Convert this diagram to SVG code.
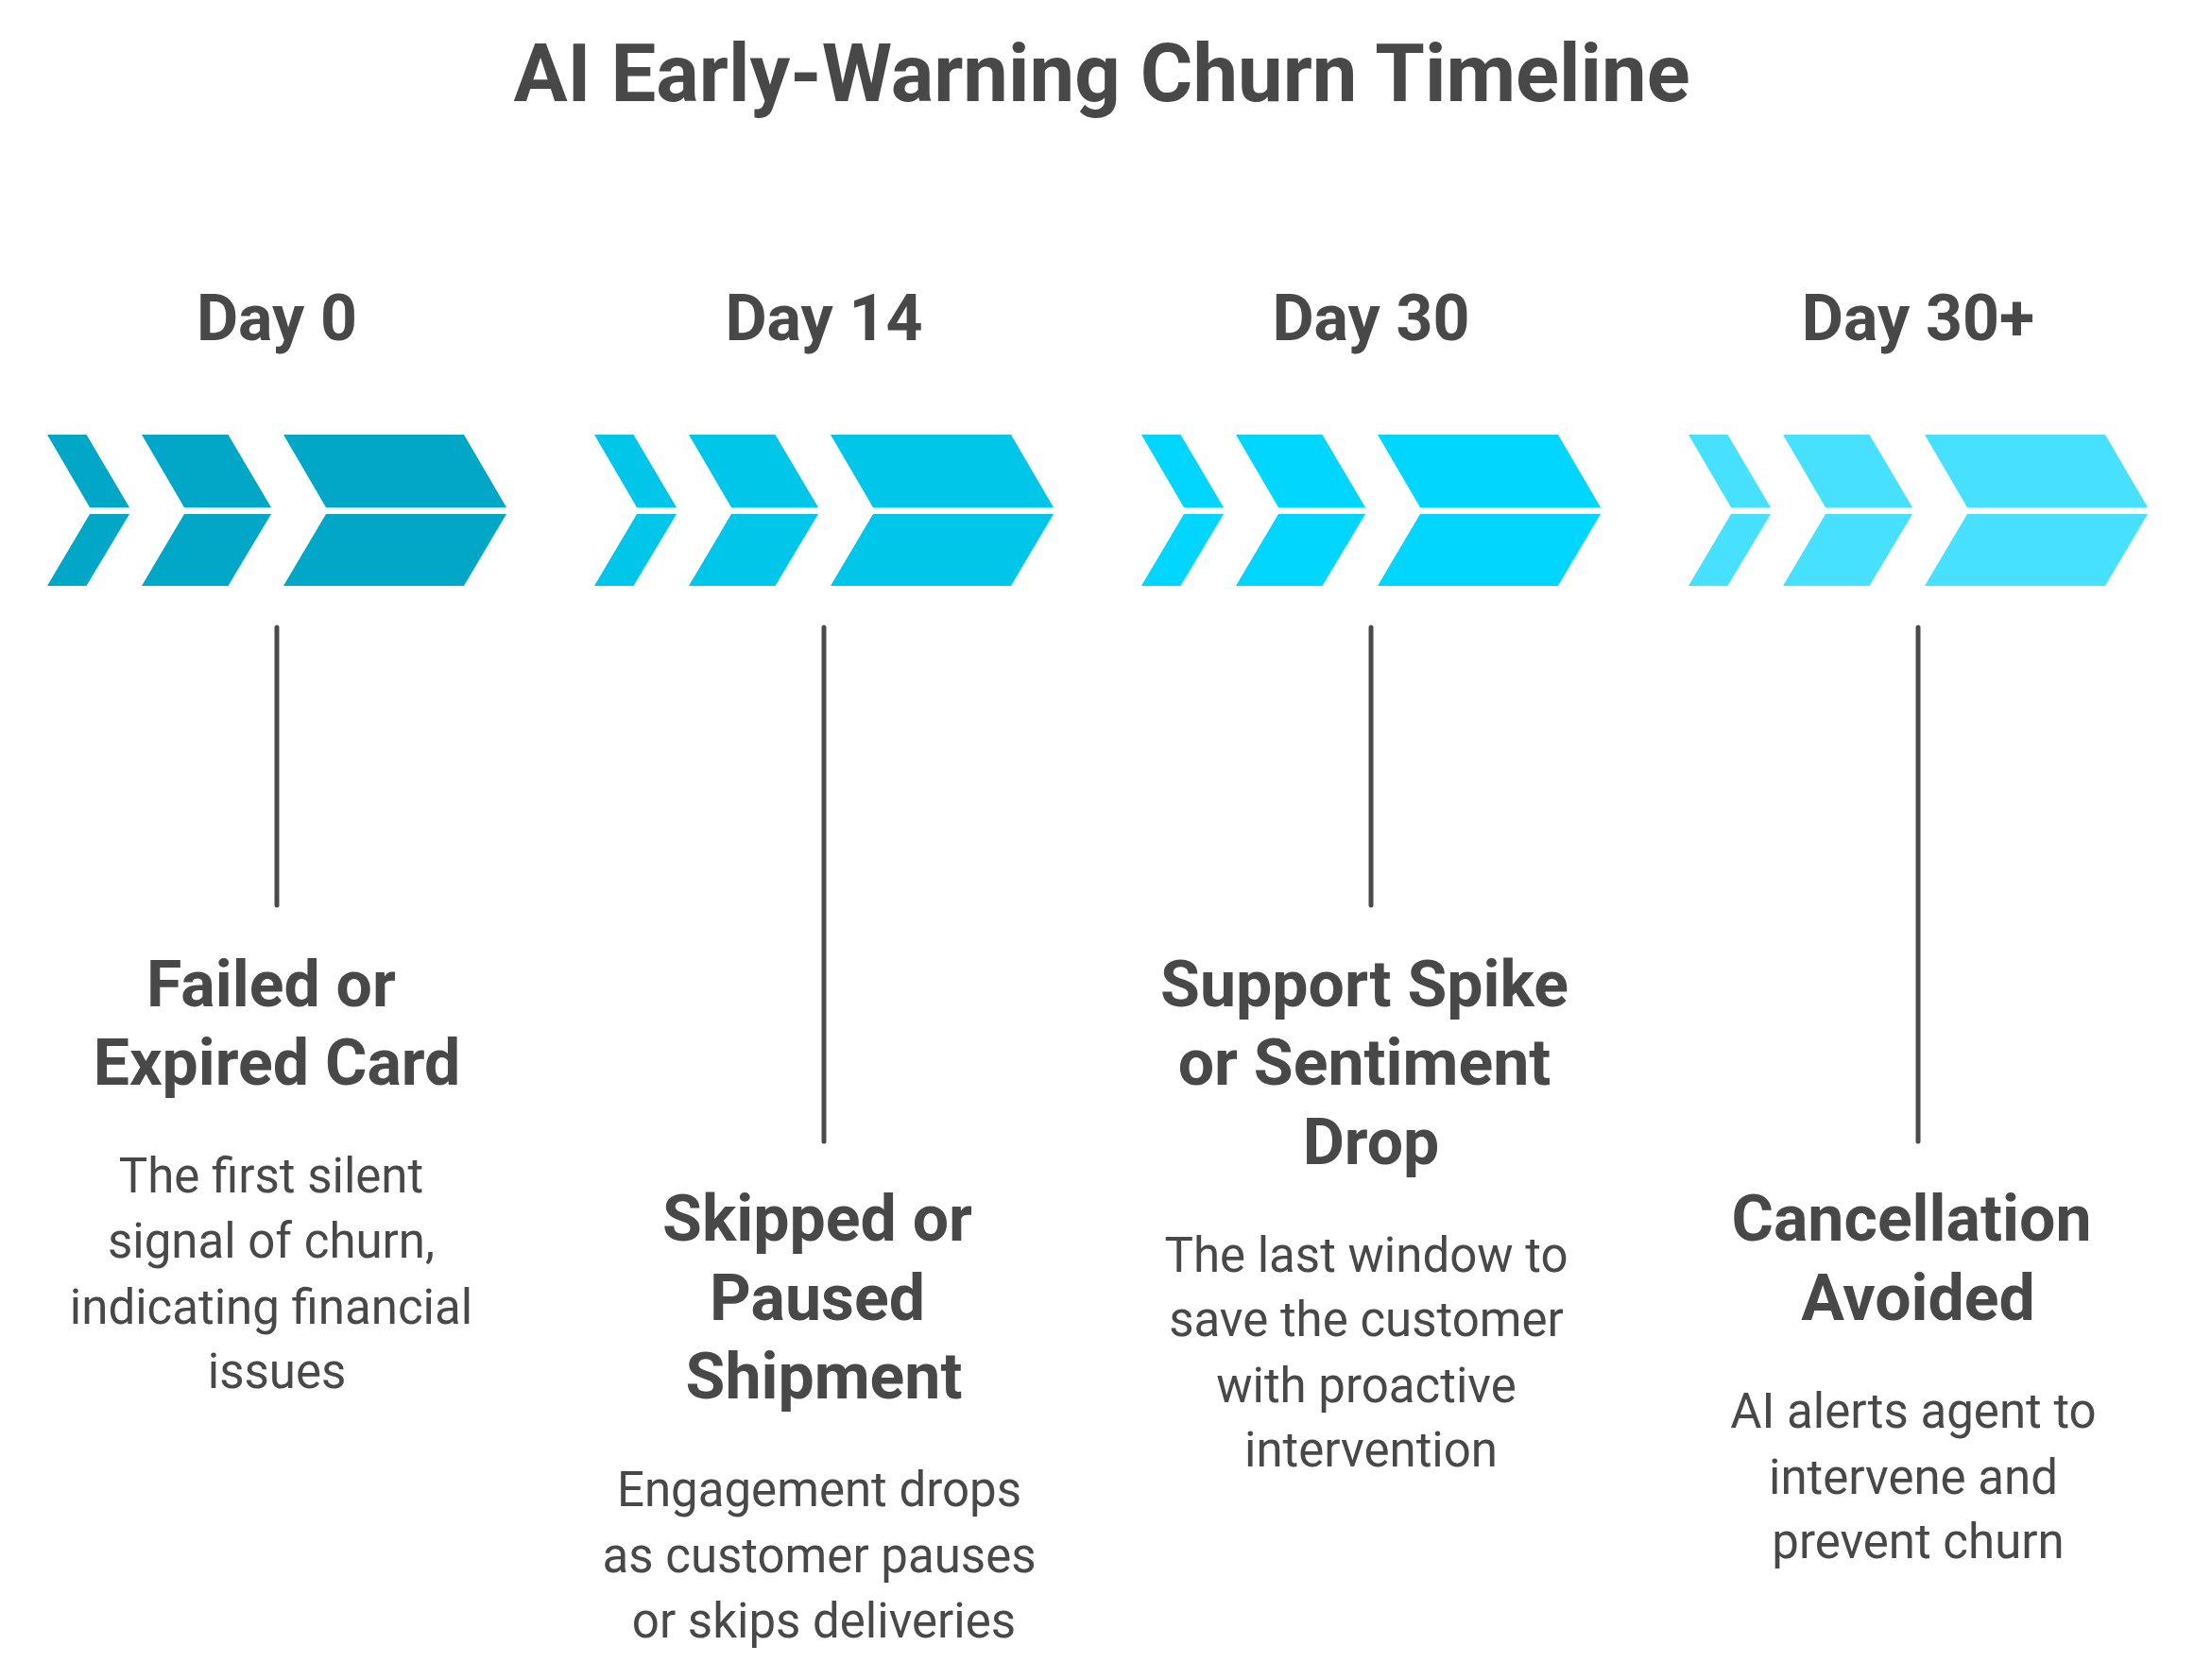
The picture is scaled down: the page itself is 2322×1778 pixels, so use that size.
<svg xmlns="http://www.w3.org/2000/svg" width="2322" height="1778" viewBox="0 0 2322 1778">
<style>
text{font-family:Roboto,"Liberation Sans",sans-serif;fill:#484848;text-anchor:middle}
.t{font-size:85px;font-weight:bold}
.d{font-size:68px;font-weight:bold}
.h{font-size:68px;font-weight:bold}
.b{font-size:51px}
.ln{stroke:#4a4a4a;stroke-width:5;stroke-linecap:round}
</style>
<defs>
<g id="chev">
<path d="M0 0H41.5L87 77H45Z M0 160H41.5L87 84H45Z"/>
<path d="M100 0H191.5L237 77H145Z M100 160H191.5L237 84H145Z"/>
<path d="M250 0H441L486 77H295Z M250 160H441L486 84H295Z"/>
</g>
</defs>
<rect width="2322" height="1778" fill="#fff"/>
<text class="t" x="1166" y="107">AI Early-Warning Churn Timeline</text>
<g id="connectors">
<line class="ln" x1="293" y1="664" x2="293" y2="958"/>
<line class="ln" x1="872" y1="664" x2="872" y2="1208"/>
<line class="ln" x1="1451" y1="664" x2="1451" y2="958"/>
<line class="ln" x1="2030" y1="664" x2="2030" y2="1208"/>
</g>
<g id="stage1">
<use href="#chev" x="50" y="460" fill="#00A7C6"/>
<text class="d" x="293" y="360">Day 0</text>
<text class="h" x="287" y="1065">Failed or</text>
<text class="h" x="293" y="1148">Expired Card</text>
<text class="b" x="287" y="1262">The first silent</text>
<text class="b" x="287" y="1331">signal of churn,</text>
<text class="b" x="287" y="1401">indicating financial</text>
<text class="b" x="293" y="1469">issues</text>
</g>
<g id="stage2">
<use href="#chev" x="629" y="460" fill="#00C6EA"/>
<text class="d" x="872" y="360">Day 14</text>
<text class="h" x="865" y="1313">Skipped or</text>
<text class="h" x="865" y="1397">Paused</text>
<text class="h" x="872" y="1480">Shipment</text>
<text class="b" x="867" y="1594">Engagement drops</text>
<text class="b" x="867" y="1664">as customer pauses</text>
<text class="b" x="872" y="1733">or skips deliveries</text>
</g>
<g id="stage3">
<use href="#chev" x="1208" y="460" fill="#00D6FF"/>
<text class="d" x="1451" y="360">Day 30</text>
<text class="h" x="1444" y="1065">Support Spike</text>
<text class="h" x="1444" y="1148">or Sentiment</text>
<text class="h" x="1451" y="1232">Drop</text>
<text class="b" x="1446" y="1346">The last window to</text>
<text class="b" x="1446" y="1414">save the customer</text>
<text class="b" x="1446" y="1484">with proactive</text>
<text class="b" x="1451" y="1552">intervention</text>
</g>
<g id="stage4">
<use href="#chev" x="1787" y="460" fill="#47E1FF"/>
<text class="d" x="2030" y="360">Day 30+</text>
<text class="h" x="2023" y="1313">Cancellation</text>
<text class="h" x="2030" y="1397">Avoided</text>
<text class="b" x="2025" y="1511">AI alerts agent to</text>
<text class="b" x="2025" y="1581">intervene and</text>
<text class="b" x="2030" y="1649">prevent churn</text>
</g>
</svg>
